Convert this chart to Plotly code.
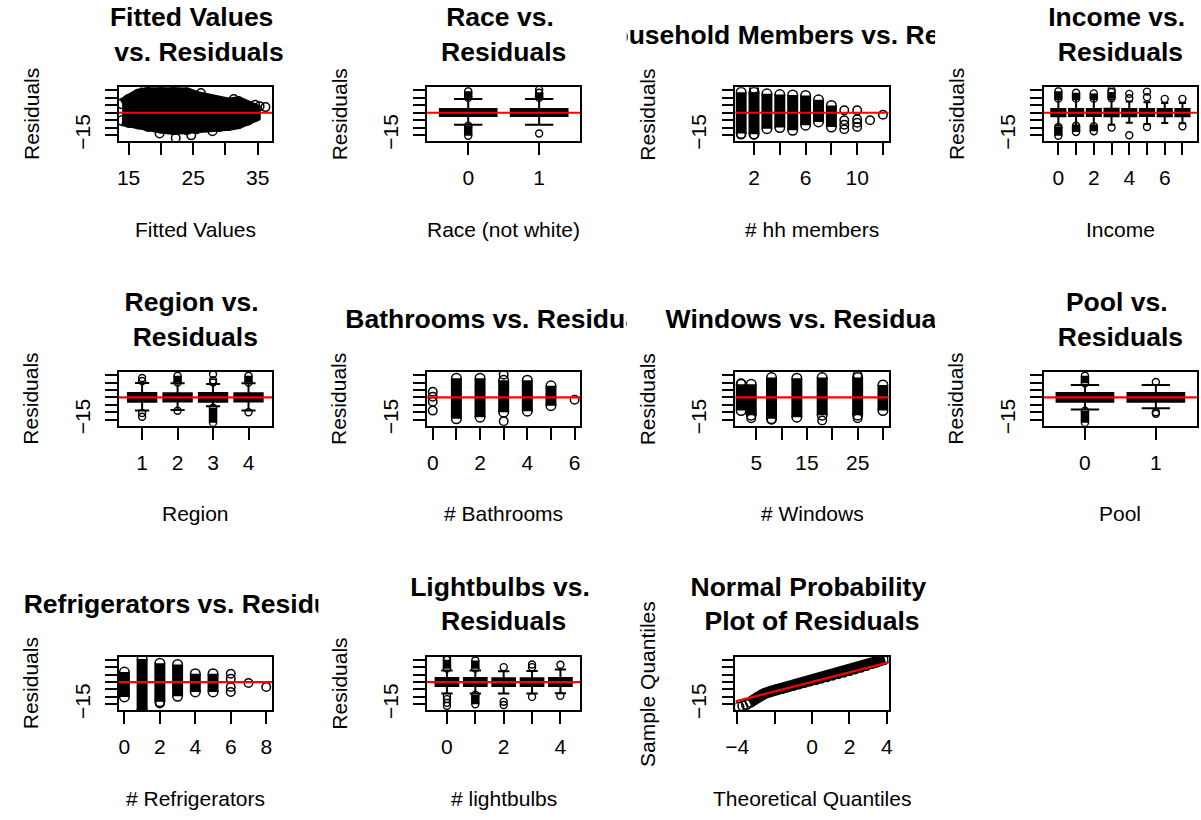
import plotly.graph_objects as go

# ---------------- data ----------------
# Panel 1: fitted values vs residuals (cloud envelope + stray points)
FIT_ENV_X = [14.0, 15.0, 16.5, 18.0, 20.0, 22.0, 24.0, 25.5, 27.0, 29.0, 30.5, 32.0, 33.5, 34.6]
FIT_ENV_HI = [6.0, 9.0, 12.5, 13.8, 13.8, 13.8, 13.5, 11.0, 9.5, 7.0, 6.5, 7.5, 4.0, 2.5]
FIT_ENV_LO = [-5.3, -6.5, -7.5, -9.2, -10.3, -11.2, -11.3, -10.8, -9.5, -9.3, -8.5, -7.3, -5.0, -2.5]
FIT_OUT_X = [19.8, 22.3, 24.7, 36.2, 34.6, 31.3, 26.2, 22.2, 17.5, 28.0, 35.3]
FIT_OUT_Y = [-14.0, -17.0, -15.2, 3.8, 5.3, 9.3, 13.3, 15.8, 15.5, -12.5, 4.3]

# Panel 2: race boxplot
RACE_LABELS = ["0", "1"]
RACE_POS = [1, 2]
RACE_Q1 = [-2.2, -2.2]
RACE_MED = [0.2, 0.2]
RACE_Q3 = [2.6, 2.6]
RACE_WLO = [-8.0, -8.0]
RACE_WHI = [9.3, 9.3]
RACE_BAND_X = [1, 1, 2]
RACE_BAND_LO = [10.0, -8.8, 10.0]
RACE_BAND_HI = [14.5, -15.5, 13.5]
RACE_PT_X = [2, 2]
RACE_PT_Y = [15.5, -14.0]

# Panel 3: household members
HH_X = [1, 2, 3, 4, 5, 6, 7, 8]
HH_LO = [-14.0, -14.4, -10.7, -10.0, -11.8, -8.4, -6.2, -9.6]
HH_HI = [13.8, 13.8, 12.7, 12.2, 12.0, 11.6, 8.7, 4.9]
HH_PT_X = [9, 9, 9, 9, 10, 10, 10, 10, 11, 12, 1, 2, 2]
HH_PT_Y = [1.6, -5.1, -8.0, -11.1, 1.6, -4.4, -6.7, -9.6, -5.1, -1.3, -14.7, -14.7, 16.0]

# Panel 4: income boxplot
INC_LABELS = ["0", "1", "2", "3", "4", "5", "6", "7"]
INC_POS = [1, 2, 3, 4, 5, 6, 7, 8]
INC_Q1 = [-2.3, -2.2, -2.2, -2.3, -2.4, -2.2, -2.3, -2.3]
INC_MED = [0.1, 0.2, 0.3, 0.2, 0.0, 0.2, 0.1, 0.2]
INC_Q3 = [2.5, 2.6, 2.6, 2.7, 2.5, 2.6, 2.5, 2.6]
INC_WLO = [-8.5, -8.5, -8.5, -8.0, -6.7, -7.5, -6.9, -7.0]
INC_WHI = [9.0, 9.0, 9.0, 9.0, 7.5, 7.0, 6.5, 6.5]
INC_BAND_X = [1, 1, 2, 2, 3, 3, 4]
INC_BAND_LO = [9.5, -9.5, 9.5, -8.8, 9.5, -9.0, 9.8]
INC_BAND_HI = [14.5, -15.5, 13.5, -13.0, 13.0, -12.5, 14.0]
INC_PT_X = [4, 4, 5, 5, 5, 6, 6, 6, 7, 8, 8]
INC_PT_Y = [15.3, -10.0, 12.7, 9.8, -15.1, 14.2, 10.4, -9.6, 9.3, 9.3, -9.1]

# Panel 5: region boxplot
REG_LABELS = ["1", "2", "3", "4"]
REG_POS = [1, 2, 3, 4]
REG_Q1 = [-2.9, -2.8, -2.9, -2.8]
REG_MED = [0.0, 0.1, 0.0, 0.1]
REG_Q3 = [2.9, 2.8, 2.9, 2.8]
REG_WLO = [-8.9, -8.5, -6.0, -8.9]
REG_WHI = [9.6, 9.5, 9.0, 9.5]
REG_BAND_X = [2, 3, 4]
REG_BAND_LO = [10.0, -7.0, 10.0]
REG_BAND_HI = [14.5, -17.0, 14.5]
REG_PT_X = [1, 1, 1, 1, 2, 3, 3, 3, 4]
REG_PT_Y = [11.0, 13.0, -10.5, -13.0, -9.0, 15.5, 11.5, 10.0, -10.0]

# Panel 6: bathrooms
BATH_X = [1, 2, 3, 4, 5]
BATH_LO = [-14.4, -13.3, -10.0, -9.3, -5.6]
BATH_HI = [12.9, 12.9, 11.6, 11.6, 7.8]
BATH_PT_X = [0, 0, 0, 0, 3, 3, 6]
BATH_PT_Y = [3.8, 0.5, -2.9, -8.9, 15.3, -16.0, -1.6]

# Panel 7: windows
WIN_X = [2, 4, 8, 13, 18, 25, 30]
WIN_LO = [-8.9, -12.0, -14.4, -13.3, -12.0, -12.0, -8.9]
WIN_HI = [8.9, 8.9, 13.3, 12.9, 13.3, 13.3, 8.4]
WIN_PT_X = [4, 18, 25, 8, 2, 25]
WIN_PT_Y = [-14.0, -15.5, -14.0, -15.0, 9.5, 15.0]

# Panel 8: pool boxplot
POOL_LABELS = ["0", "1"]
POOL_POS = [1, 2]
POOL_Q1 = [-2.9, -2.9]
POOL_MED = [0.0, 0.0]
POOL_Q3 = [2.9, 2.9]
POOL_WLO = [-8.2, -7.3]
POOL_WHI = [8.4, 8.4]
POOL_BAND_X = [1, 1]
POOL_BAND_LO = [9.5, -9.0]
POOL_BAND_HI = [14.5, -17.0]
POOL_PT_X = [2, 2, 2]
POOL_PT_Y = [10.4, -10.0, -11.0]

# Panel 9: refrigerators
REF_X = [0, 1, 2, 3, 4, 5]
REF_LO = [-10.0, -19.0, -13.3, -9.6, -6.7, -6.7]
REF_HI = [6.7, 15.5, 12.7, 11.8, 5.6, 5.6]
REF_PT_X = [6, 6, 6, 6, 7, 8, 2]
REF_PT_Y = [5.6, 2.2, -3.3, -6.7, -0.7, -3.3, -14.4]

# Panel 10: lightbulbs boxplot
LB_LABELS = ["0", "1", "2", "3", "4"]
LB_POS = [1, 2, 3, 4, 5]
LB_Q1 = [-2.7, -2.6, -2.7, -2.7, -2.6]
LB_MED = [0.0, 0.1, 0.0, -0.1, 0.1]
LB_Q3 = [2.7, 2.7, 2.6, 2.6, 2.7]
LB_WLO = [-7.8, -7.8, -7.8, -7.8, -7.5]
LB_WHI = [7.8, 7.8, 7.3, 7.5, 8.4]
LB_BAND_X = [1, 2, 2]
LB_BAND_LO = [9.0, 9.0, -8.5]
LB_BAND_HI = [15.0, 14.5, -15.0]
LB_PT_X = [1, 1, 1, 1, 1, 3, 3, 3, 4, 4, 4, 5, 5]
LB_PT_Y = [16.3, -9.5, -11.5, -14.0, -16.0, 10.0, -13.3, -15.5, 11.8, 10.0, -10.0, 11.6, -9.3]

# Panel 11: normal QQ plot (sparse lower tail, then the dense band)
QQ_TAIL_THEO = [-3.9, -3.7, -3.5]
QQ_TAIL_SAMPLE = [-16.8, -16.2, -15.2]
QQ_THEO = [-3.3, -3.1, -2.9, -2.7, -2.5, -2.2, -1.9, -1.6, -1.3, -1.0, -0.7,
           -0.4, -0.1, 0.2, 0.5, 0.8, 1.1, 1.4, 1.7, 2.0, 2.3, 2.6, 2.9, 3.2, 3.4, 3.6, 3.8, 3.9]
QQ_SAMPLE = [-13.6, -11.8, -10.0, -8.6, -7.5, -6.3, -5.2, -4.3, -3.3, -2.3, -1.3,
             -0.3, 0.7, 1.6, 2.6, 3.6, 4.6, 5.6, 6.6, 7.7, 8.8, 9.9, 11.1, 12.4, 13.3, 14.2, 15.0, 15.4]
QQ_INTERCEPT = 0.1
QQ_SLOPE = 3.2

# ---------------- layout helpers ----------------
W, H = 1201, 820
FONT = "Liberation Sans, Arial, Helvetica, sans-serif"
BASE = 21
TSIZE = 26.5
COL_W = 312
ROW_H = 287.8
BOX_L, BOX_R = 110, 265
BOX_T, BOX_B = 88.3, 142.7
YRANGE = [-19.1, 17.1]
YTICKS = [-15, -10, -5, 0, 5, 10, 15]
YTEXT = ["\u221215", "", "", "", "", "", ""]
BAND_W = 11
PT_SIZE = 8.5
PT_LW = 1.5

fig = go.Figure()
layout = {}
annotations = []
shapes = []


def ax_name(i, kind):
    return f"{kind}axis" if i == 1 else f"{kind}axis{i}"


def ref(i, kind):
    return kind if i == 1 else f"{kind}{i}"


def box_px(col, row):
    x0 = BOX_L + COL_W * col
    x1 = BOX_R + COL_W * col
    y0 = BOX_T + ROW_H * row
    y1 = BOX_B + ROW_H * row
    return x0, x1, y0, y1


def setup_panel(i, col, row, xrange, xticks, xtext, title, xlabel, ylabel="Residuals"):
    x0, x1, y0, y1 = box_px(col, row)
    common = dict(ticks="outside", ticklen=12, tickwidth=1.5, tickcolor="black",
                  showline=True, linecolor="black", linewidth=1.5, mirror=True,
                  showgrid=False, zeroline=False, fixedrange=True,
                  tickfont=dict(family=FONT, size=BASE, color="black"))
    layout[ax_name(i, "x")] = dict(domain=[x0 / W, min(x1, W) / W], range=xrange,
                                   tickmode="array", tickvals=xticks, ticktext=xtext,
                                   anchor=ref(i, "y"), ticklabelstandoff=5, **common)
    layout[ax_name(i, "y")] = dict(domain=[1 - y1 / H, 1 - y0 / H], range=YRANGE,
                                   tickmode="array", tickvals=YTICKS, ticktext=YTEXT,
                                   tickangle=-90, anchor=ref(i, "x"), ticklabelstandoff=7,
                                   **common)
    annotations.append(dict(text=xlabel, x=(x0 + x1) / 2 / W, y=1 - (y1 + 89) / H,
                            xref="paper", yref="paper", showarrow=False,
                            xanchor="center", yanchor="middle",
                            font=dict(family=FONT, size=BASE, color="black")))
    annotations.append(dict(text=ylabel, x=(x0 - 89) / W, y=1 - (y0 + y1) / 2 / H,
                            xref="paper", yref="paper", showarrow=False, textangle=-90,
                            xanchor="center", yanchor="middle",
                            font=dict(family=FONT, size=BASE, color="black")))
    # title on its own clipped axis (the figure region of the panel)
    j = i + 11
    tx0 = COL_W * col
    tx1 = min(COL_W * (col + 1), W)
    ty0 = ROW_H * row
    ty1 = y0
    hidden = dict(visible=False, showgrid=False, zeroline=False, fixedrange=True)
    layout[ax_name(j, "x")] = dict(domain=[tx0 / W, tx1 / W], range=[tx0, tx1],
                                   anchor=ref(j, "y"), **hidden)
    layout[ax_name(j, "y")] = dict(domain=[1 - ty1 / H, 1 - ty0 / H], range=[ty1, ty0],
                                   anchor=ref(j, "x"), **hidden)
    fig.add_trace(go.Scatter(x=[(x0 + x1) / 2], y=[ty0 + 37.5], mode="text",
                             text=[f"<b>{title}</b>"], textposition="middle center",
                             textfont=dict(family=FONT, size=TSIZE, color="black"),
                             cliponaxis=True, xaxis=ref(j, "x"), yaxis=ref(j, "y"),
                             hoverinfo="skip"))


def zero_line(i):
    shapes.append(dict(type="line", xref=f"{ref(i, 'x')} domain", yref=ref(i, "y"),
                       x0=0, x1=1, y0=0, y1=0, line=dict(color="red", width=2.2), layer="above"))


def circles(i, xs, ys, size=PT_SIZE, lw=PT_LW):
    fig.add_trace(go.Scatter(x=xs, y=ys, mode="markers",
                             marker=dict(symbol="circle-open", size=size, color="black",
                                         line=dict(width=lw, color="black")),
                             xaxis=ref(i, "x"), yaxis=ref(i, "y"), hoverinfo="skip"))


def bands(i, xs, los, his, width=BAND_W, size=PT_SIZE + 1, lw=PT_LW):
    bx, by = [], []
    for x, lo, hi in zip(xs, los, his):
        bx += [x, x, None]
        by += [lo, hi, None]
    fig.add_trace(go.Scatter(x=bx, y=by, mode="lines", line=dict(color="black", width=width),
                             xaxis=ref(i, "x"), yaxis=ref(i, "y"), hoverinfo="skip"))
    circles(i, list(xs) + list(xs), list(los) + list(his), size, lw)


def boxplot(i, pos, q1, med, q3, wlo, whi, bx, blo, bhi, px, py):
    fig.add_trace(go.Box(x=pos, q1=q1, median=med, q3=q3, lowerfence=wlo, upperfence=whi,
                         width=0.8, whiskerwidth=0.5, fillcolor="black", boxpoints=False,
                         line=dict(color="black", width=2),
                         xaxis=ref(i, "x"), yaxis=ref(i, "y"), hoverinfo="skip"))
    mx, my = [], []
    for p, m in zip(pos, med):
        mx += [p - 0.4, p + 0.4, None]
        my += [m, m, None]
    fig.add_trace(go.Scatter(x=mx, y=my, mode="lines", line=dict(color="black", width=4),
                             xaxis=ref(i, "x"), yaxis=ref(i, "y"), hoverinfo="skip"))
    bands(i, bx, blo, bhi, width=8.5, size=7, lw=1.4)
    circles(i, px, py, size=7, lw=1.4)


# ---------------- panels ----------------
setup_panel(1, 0, 0, [13.47, 37.2], [15, 20, 25, 30, 35], ["15", "", "25", "", "35"],
            "Fitted Values <br> vs. Residuals", "Fitted Values")
fig.add_trace(go.Scatter(x=FIT_ENV_X + FIT_ENV_X[::-1], y=FIT_ENV_HI + FIT_ENV_LO[::-1],
                         mode="lines", fill="toself", fillcolor="black",
                         line=dict(color="black", width=BAND_W), xaxis="x", yaxis="y",
                         hoverinfo="skip"))
circles(1, FIT_ENV_X + FIT_ENV_X, FIT_ENV_HI + FIT_ENV_LO, PT_SIZE + 1)
circles(1, FIT_OUT_X, FIT_OUT_Y)
zero_line(1)

setup_panel(2, 1, 0, [0.42, 2.58], RACE_POS, RACE_LABELS, "Race vs. <br>Residuals",
            "Race (not white)")
boxplot(2, RACE_POS, RACE_Q1, RACE_MED, RACE_Q3, RACE_WLO, RACE_WHI,
        RACE_BAND_X, RACE_BAND_LO, RACE_BAND_HI, RACE_PT_X, RACE_PT_Y)
zero_line(2)

setup_panel(3, 2, 0, [0.56, 12.44], [2, 4, 6, 8, 10, 12], ["2", "", "6", "", "10", ""],
            "Household Members vs. Residuals", "# hh members")
bands(3, HH_X, HH_LO, HH_HI)
circles(3, HH_PT_X, HH_PT_Y)
zero_line(3)

setup_panel(4, 3, 0, [0.18, 8.82], INC_POS, ["0", "", "2", "", "4", "", "6", ""],
            "Income vs. <br>Residuals", "Income")
boxplot(4, INC_POS, INC_Q1, INC_MED, INC_Q3, INC_WLO, INC_WHI,
        INC_BAND_X, INC_BAND_LO, INC_BAND_HI, INC_PT_X, INC_PT_Y)
zero_line(4)

setup_panel(5, 0, 1, [0.34, 4.66], REG_POS, REG_LABELS, "Region vs. <br>Residuals", "Region")
boxplot(5, REG_POS, REG_Q1, REG_MED, REG_Q3, REG_WLO, REG_WHI,
        REG_BAND_X, REG_BAND_LO, REG_BAND_HI, REG_PT_X, REG_PT_Y)
zero_line(5)

setup_panel(6, 1, 1, [-0.24, 6.24], [0, 1, 2, 3, 4, 5, 6], ["0", "", "2", "", "4", "", "6"],
            "Bathrooms vs. Residuals", "# Bathrooms")
bands(6, BATH_X, BATH_LO, BATH_HI)
circles(6, BATH_PT_X, BATH_PT_Y)
zero_line(6)

setup_panel(7, 2, 1, [0.88, 31.12], [5, 10, 15, 20, 25, 30], ["5", "", "15", "", "25", ""],
            "Windows vs. Residuals", "# Windows")
bands(7, WIN_X, WIN_LO, WIN_HI)
circles(7, WIN_PT_X, WIN_PT_Y)
zero_line(7)

setup_panel(8, 3, 1, [0.42, 2.58], POOL_POS, POOL_LABELS, "Pool vs. <br>Residuals", "Pool")
boxplot(8, POOL_POS, POOL_Q1, POOL_MED, POOL_Q3, POOL_WLO, POOL_WHI,
        POOL_BAND_X, POOL_BAND_LO, POOL_BAND_HI, POOL_PT_X, POOL_PT_Y)
zero_line(8)

setup_panel(9, 0, 2, [-0.32, 8.32], [0, 2, 4, 6, 8], ["0", "2", "4", "6", "8"],
            "Refrigerators vs. Residuals", "# Refrigerators")
bands(9, REF_X, REF_LO, REF_HI)
circles(9, REF_PT_X, REF_PT_Y)
zero_line(9)

setup_panel(10, 1, 2, [0.3, 5.7], LB_POS, ["0", "", "2", "", "4"],
            "Lightbulbs vs. <br>Residuals", "# lightbulbs")
boxplot(10, LB_POS, LB_Q1, LB_MED, LB_Q3, LB_WLO, LB_WHI,
        LB_BAND_X, LB_BAND_LO, LB_BAND_HI, LB_PT_X, LB_PT_Y)
zero_line(10)

QQ_RANGE = [-4.09, 4.09]
setup_panel(11, 2, 2, QQ_RANGE, [-4, -2, 0, 2, 4], ["\u22124", "", "0", "2", "4"],
            "Normal Probability <br>Plot of Residuals", "Theoretical Quantiles",
            ylabel="Sample Quantiles")
fig.add_trace(go.Scatter(x=QQ_THEO, y=QQ_SAMPLE, mode="lines+markers",
                         line=dict(color="black", width=BAND_W),
                         marker=dict(symbol="circle-open", size=PT_SIZE + 1, color="black",
                                     line=dict(width=PT_LW, color="black")),
                         xaxis="x11", yaxis="y11", hoverinfo="skip"))
circles(11, QQ_TAIL_THEO, QQ_TAIL_SAMPLE, PT_SIZE + 1)
fig.add_trace(go.Scatter(x=QQ_RANGE, y=[QQ_INTERCEPT + QQ_SLOPE * v for v in QQ_RANGE],
                         mode="lines", line=dict(color="red", width=2.2),
                         xaxis="x11", yaxis="y11", hoverinfo="skip"))

fig.update_layout(width=W, height=H, margin=dict(l=0, r=0, t=0, b=0),
                  paper_bgcolor="white", plot_bgcolor="white", showlegend=False,
                  hovermode=False, boxmode="overlay",
                  font=dict(family=FONT, size=BASE, color="black"),
                  annotations=annotations, shapes=shapes, **layout)
fig.write_html("out.html", config={"displayModeBar": False},
               post_script="document.body.style.margin='0';document.body.style.overflow='hidden';")
